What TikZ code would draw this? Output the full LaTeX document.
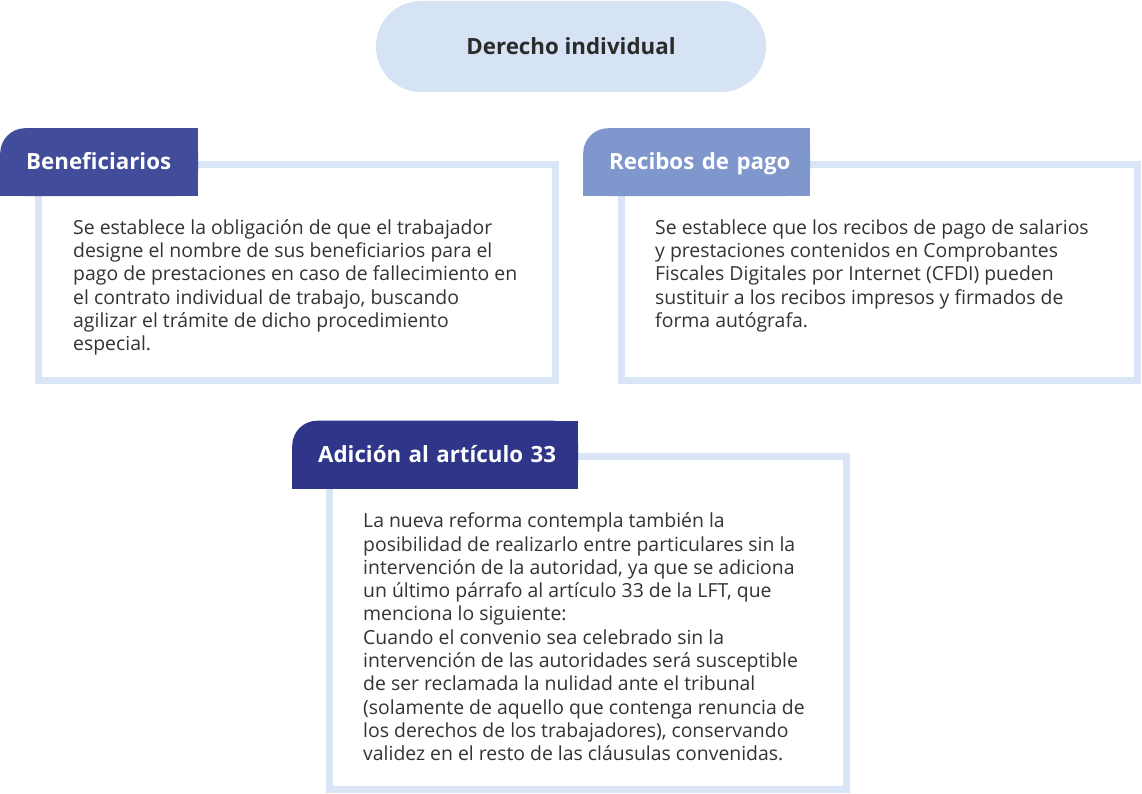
\documentclass[tikz,border=0pt]{standalone}
\usepackage{fontspec}
\setmainfont{Open Sans}
\usepackage{xcolor}
\usetikzlibrary{positioning}

\definecolor{fondoTitulo}{HTML}{D5E3F5}
\definecolor{bordeCaja}{HTML}{DAE6F5}
\definecolor{pestanaA}{HTML}{414C9A}
\definecolor{pestanaB}{HTML}{7F97CD}
\definecolor{pestanaC}{HTML}{2F3589}
\definecolor{textoGris}{HTML}{333333}

\tikzset{
  caja/.style={draw=bordeCaja, line width=7pt, fill=white, inner sep=0pt},
  pestana/.style={text=white, font=\bfseries\fontsize{22.3}{26}\selectfont,
    anchor=north west, inner xsep=26pt, inner ysep=0pt, minimum height=68pt,
    text height=15pt, text depth=0pt, align=left,
    path picture={
      \fill[#1, rounded corners=25pt] (path picture bounding box.south west) rectangle (path picture bounding box.north east);
      \fill[#1] (path picture bounding box.north) rectangle (path picture bounding box.south east);
      \fill[#1] (path picture bounding box.west) rectangle (path picture bounding box.south);
    }},
  texto/.style={anchor=north west, inner sep=0pt, text=textoGris, align=left,
    font=\fontsize{19.4}{23.3}\selectfont, execute at begin node=\strut},
}

\begin{document}
\begin{tikzpicture}[x=1pt, y=-1pt]
  \useasboundingbox (0,0) rectangle (1142,794);

  % Título superior
  \node[fill=fondoTitulo, rounded corners=45pt, minimum width=390pt, minimum height=91pt,
        text=textoGris!85!black, font=\bfseries\fontsize{22.3}{26}\selectfont,
        text height=17pt, text depth=0pt] (titulo) at (571,46.5) {Derecho individual};

  % Cajas con borde claro
  \node[caja, minimum width=517pt, minimum height=216pt] (cajaA) at (297,272.5) {};
  \node[caja, minimum width=516pt, minimum height=216pt] (cajaB) at (879.5,272.5) {};
  \node[caja, minimum width=517pt, minimum height=333pt] (cajaC) at (588,623) {};

  % Pestañas de cada caja
  \node[pestana=pestanaA, text width=146pt] (benef) at (0,128) {\mbox{Beneficiarios}};
  \node[pestana=pestanaB, text width=175pt] (recibos) at (583,128) {\mbox{Recibos de pago}};
  \node[pestana=pestanaC, text width=234pt] (adicion) at (292,420.5) {\mbox{Adición al artículo 33}};

  % Textos de las cajas
  \node[texto] (textoA) at (73,219.2) {Se establece la obligación de que el trabajador\\
    designe el nombre de sus beneficiarios para el\\
    pago de prestaciones en caso de fallecimiento en\\
    el contrato individual de trabajo, buscando\\
    agilizar el trámite de dicho procedimiento\\
    especial.};
  \node[texto] (textoB) at (655,219.2) {Se establece que los recibos de pago de salarios\\
    y prestaciones contenidos en Comprobantes\\
    Fiscales Digitales por Internet (CFDI) pueden\\
    sustituir a los recibos impresos y firmados de\\
    forma autógrafa.};
  \node[texto] (textoC) at (363,512.7) {La nueva reforma contempla también la\\
    posibilidad de realizarlo entre particulares sin la\\
    intervención de la autoridad, ya que se adiciona\\
    un último párrafo al artículo 33 de la LFT, que\\
    menciona lo siguiente:\\
    Cuando el convenio sea celebrado sin la\\
    intervención de las autoridades será susceptible\\
    de ser reclamada la nulidad ante el tribunal\\
    (solamente de aquello que contenga renuncia de\\
    los derechos de los trabajadores), conservando\\
    validez en el resto de las cláusulas convenidas.};
\end{tikzpicture}
\end{document}
